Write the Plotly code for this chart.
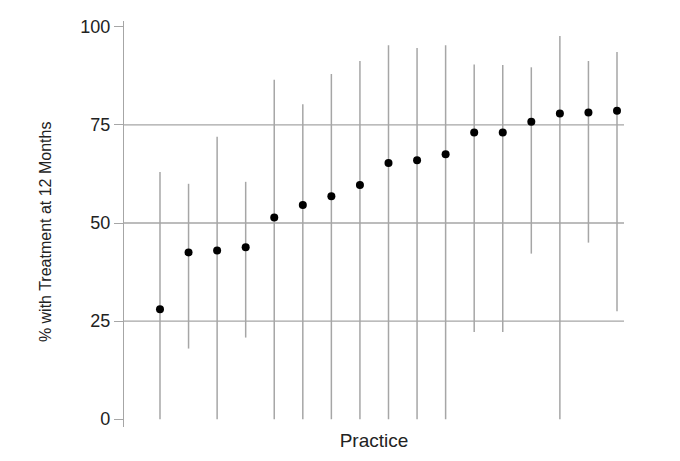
import plotly.graph_objects as go

practices = list(range(1, 18))
pct = [28.0, 42.5, 43.0, 43.8, 51.4, 54.6, 56.8, 59.7, 65.3, 66.0, 67.5, 73.1, 73.1, 75.8, 77.9, 78.2, 78.6]
upper = [63.0, 60.0, 72.0, 60.5, 86.5, 80.3, 88.0, 91.3, 95.3, 94.6, 95.3, 90.4, 90.3, 89.7, 97.7, 91.3, 93.6]
lower = [0.0, 18.0, 0.0, 20.8, 0.0, 0.0, 0.0, 0.0, 0.0, 0.0, 0.0, 22.2, 22.2, 42.2, 0.0, 45.0, 27.5]
y_ticks = [0, 25, 50, 75, 100]
grid_levels = [25, 50, 75]
y_title = "% with Treatment at 12 Months"

err_plus = [u - p for u, p in zip(upper, pct)]
err_minus = [p - l for p, l in zip(pct, lower)]

fig = go.Figure()
fig.add_trace(go.Scatter(
    x=practices, y=pct, mode="markers",
    marker=dict(color="black", size=8),
    error_y=dict(type="data", array=err_plus, arrayminus=err_minus,
                 symmetric=False, width=0, thickness=1.5, color="#a6a6a6"),
    showlegend=False,
))

for g in grid_levels:
    fig.add_shape(type="line", xref="paper", x0=0, x1=1, yref="y", y0=g, y1=g,
                  line=dict(color="#a6a6a6", width=1.3), layer="below")

fig.add_annotation(text=y_title, textangle=-90, xref="paper", yref="paper",
                   x=-0.158, y=0.48, xanchor="center", yanchor="middle",
                   showarrow=False, font=dict(size=16, color="#222"))

fig.update_layout(
    width=680, height=461,
    margin=dict(l=116, r=64, t=9, b=42),
    paper_bgcolor="white", plot_bgcolor="white",
    font=dict(family="Liberation Sans, Arial, sans-serif", color="#222"),
    xaxis=dict(range=[-0.26, 17.245], showgrid=False, zeroline=False,
               showticklabels=False, ticks="", showline=False,
               title=dict(text="Practice", font=dict(size=19), standoff=6)),
    yaxis=dict(range=[-2.0, 101.5], tickvals=y_ticks, showgrid=False, zeroline=False,
               ticks="outside", ticklen=9, tickcolor="#a6a6a6", tickwidth=1.3,
               showline=True, linecolor="#a6a6a6", linewidth=1.3,
               tickfont=dict(size=18, color="#222")),
)

fig.write_html("out.html")
